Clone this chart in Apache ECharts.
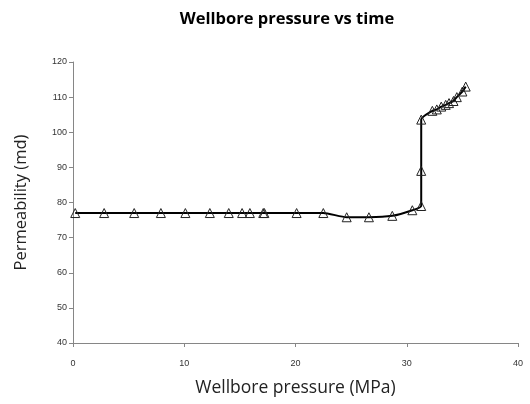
<!DOCTYPE html>
<html><head><meta charset="utf-8">
<script src="https://cdn.jsdelivr.net/npm/echarts@6/dist/echarts.min.js"></script>
<style>html,body{margin:0;padding:0;background:#fff}#c{width:530px;height:404px}</style>
</head><body><div id="c"></div>
<script>
var pressure = [0.2, 2.8, 5.5, 7.9, 10.1, 12.3, 14.0, 15.2, 15.9, 17.1, 17.2, 20.1, 22.5, 24.6, 26.6, 28.7, 30.5, 31.3, 31.3, 31.3, 32.3, 32.7, 33.1, 33.5, 33.8, 34.2, 34.5, 35.0, 35.3];
var permeability = [77.0, 77.0, 77.0, 77.0, 77.0, 77.0, 77.0, 77.0, 77.0, 77.0, 77.0, 77.0, 77.0, 75.8, 75.8, 76.2, 77.8, 79.0, 89.0, 103.6, 106.1, 106.5, 107.3, 107.8, 108.3, 108.9, 110.0, 111.6, 113.0];
var xTicks = [0, 10, 20, 30, 40];
var yTicks = [40, 50, 60, 70, 80, 90, 100, 110, 120];
var data = pressure.map(function(p, i){ return [p, permeability[i]]; });
var chart = echarts.init(document.getElementById('c'));
chart.setOption({
  animation: false,
  title: {text: 'Wellbore pressure vs time', left: 282, top: 6, textAlign: 'center',
    textStyle: {fontFamily: 'Open Sans', fontWeight: 'bold', fontSize: 16.5, color: '#000'}},
  grid: {left: 73, right: 12, top: 62, bottom: 61},
  xAxis: {type: 'value', min: xTicks[0], max: xTicks[xTicks.length-1], interval: 10,
    name: 'Wellbore pressure (MPa)', nameLocation: 'middle', nameGap: 36,
    nameTextStyle: {fontFamily: 'Open Sans', fontSize: 17.5, color: '#222'},
    axisLine: {lineStyle: {color: '#868686'}}, axisTick: {show: true, length: 4, lineStyle: {color: '#868686'}},
    axisLabel: {fontFamily: 'Liberation Sans', fontSize: 9, color: '#333', margin: 16},
    splitLine: {show: false}},
  yAxis: {type: 'value', min: yTicks[0], max: yTicks[yTicks.length-1], interval: 10,
    name: 'Permeability (md)', nameLocation: 'middle', nameGap: 43,
    nameTextStyle: {fontFamily: 'Open Sans', fontSize: 16.5, color: '#222'},
    axisLine: {show: true, lineStyle: {color: '#868686'}}, axisTick: {show: true, length: 4, lineStyle: {color: '#868686'}},
    axisLabel: {fontFamily: 'Liberation Sans', fontSize: 9, color: '#333', margin: 6},
    splitLine: {show: false}},
  series: [{type: 'line', data: data, smooth: 0.2,
    lineStyle: {color: '#000', width: 2},
    symbol: 'triangle', symbolSize: 9,
    itemStyle: {color: 'rgba(255,255,255,0)', borderColor: '#222', borderWidth: 1}}]
});
</script></body></html>
